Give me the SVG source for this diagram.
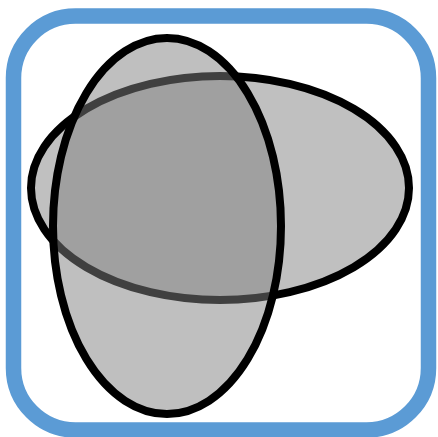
<svg xmlns="http://www.w3.org/2000/svg" width="438" height="437" viewBox="0 0 438 437">
<style>
.frame{fill:#fff;stroke:#5b9bd5;stroke-width:15.5}
.ell{stroke:#000;stroke-width:8}
</style>
<rect class="frame" x="13.5" y="16" width="415" height="414" rx="62" ry="62"/>
<g id="ellipse-horizontal">
<ellipse class="ell" cx="220" cy="188" rx="189" ry="112" fill="#c0c0c0"/>
</g>
<g id="ellipse-vertical">
<ellipse class="ell" cx="167" cy="226" rx="114" ry="188" fill="#808080" fill-opacity="0.5"/>
</g>
</svg>
